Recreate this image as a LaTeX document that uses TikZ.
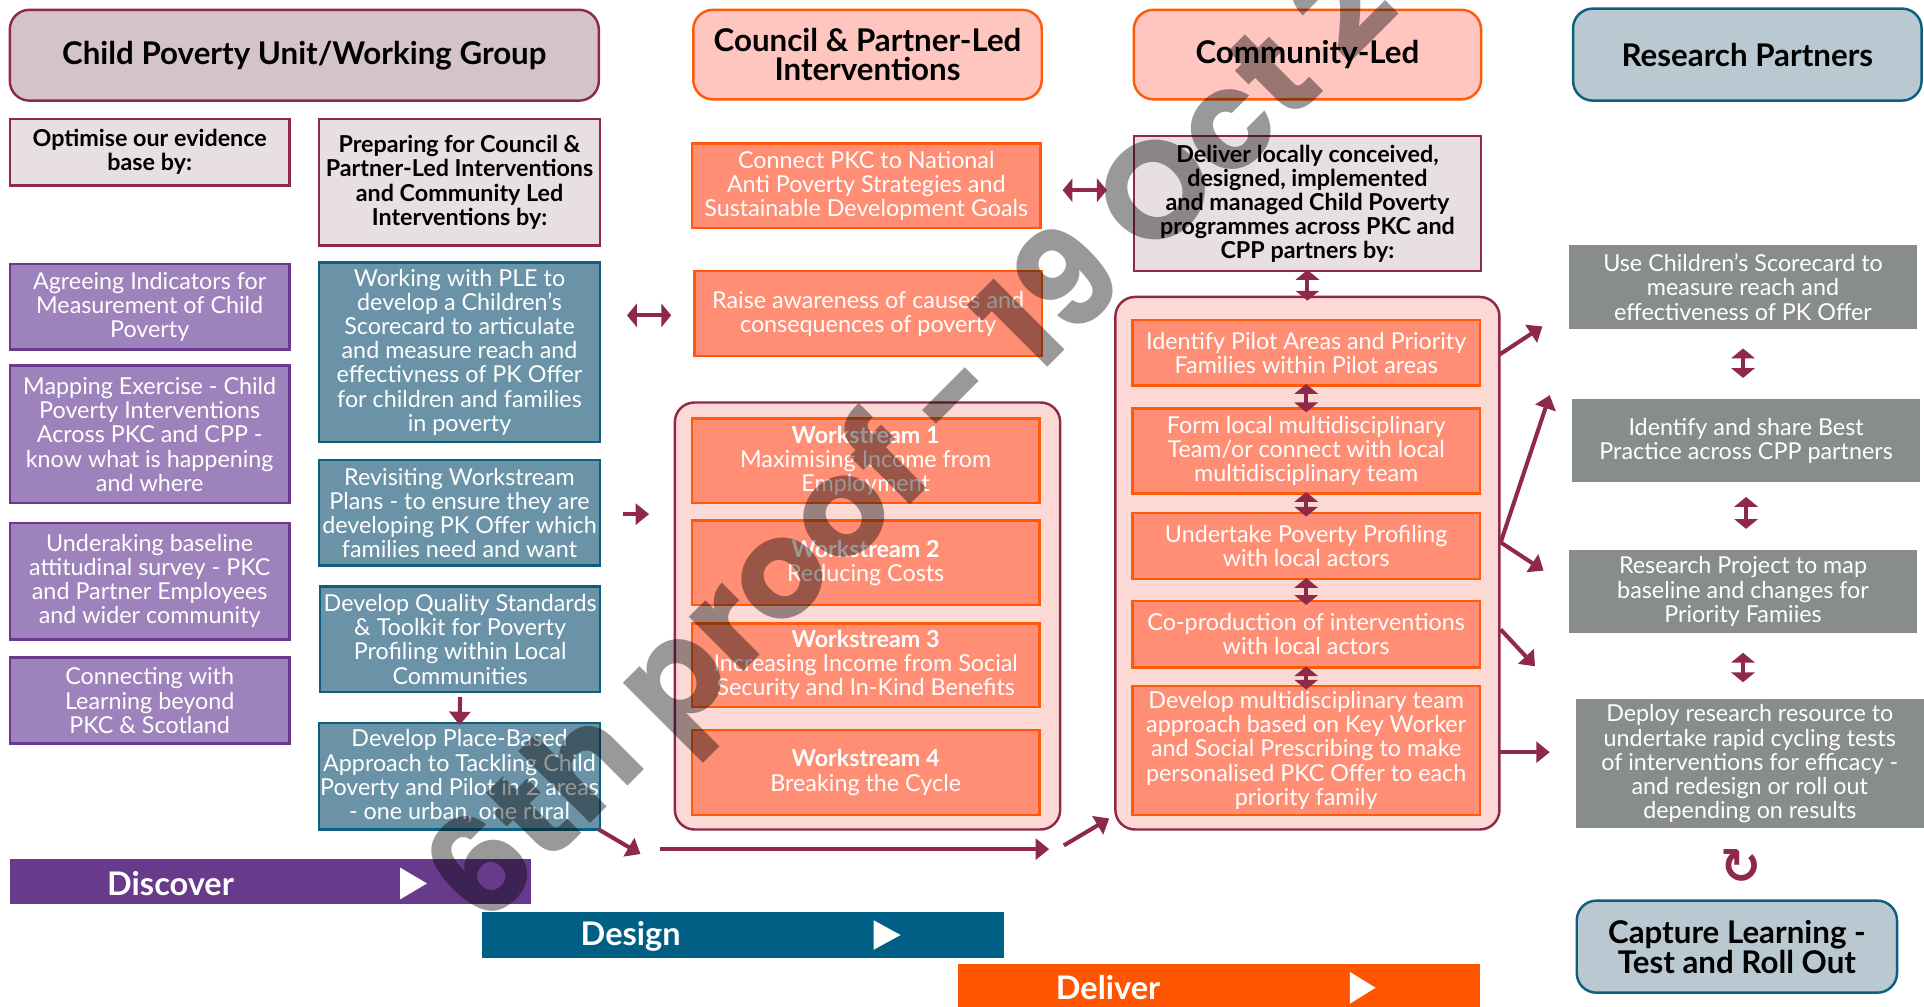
\documentclass[tikz,border=0pt]{standalone}
\usepackage{fontspec}
\setmainfont{Lato}
\newfontfamily\dejavu{DejaVu Sans}
\newfontfamily\wmfont{Poppins}
\usetikzlibrary{arrows.meta}
\definecolor{cMar}{HTML}{8E2A47}
\definecolor{cTtlFill}{HTML}{D4C3C7}
\definecolor{cLight}{HTML}{E8DFE2}
\definecolor{cPurF}{HTML}{9E82BB}
\definecolor{cPurD}{HTML}{6B3A8F}
\definecolor{cTealF}{HTML}{6A93A8}
\definecolor{cTealD}{HTML}{0D5F80}
\definecolor{cSalT}{HTML}{FFC6BF}
\definecolor{cOra}{HTML}{FF5A0A}
\definecolor{cSal}{HTML}{FF8E75}
\definecolor{cCont}{HTML}{FDD9D5}
\definecolor{cBlueT}{HTML}{BAC8D1}
\definecolor{cGray}{HTML}{898C8C}
\definecolor{cDisc}{HTML}{673A8C}
\definecolor{cDes}{HTML}{005F85}
\definecolor{cDel}{HTML}{FF5500}
\newcommand\mkbox[7]{\node[#6, minimum width={#4-#2}, minimum height={#5-#3}] (#1) at ({(#2+#4)/2},{(#3+#5)/2}) {#7};}
\tikzset{
 bodyf/.style={font=\fontsize{19}{19.7}\selectfont},
 boldf/.style={font=\bfseries\fontsize{19}{19.7}\selectfont},
 ttlf/.style={font=\bfseries\fontsize{25.5}{23.5}\selectfont},
 bxs/.style={inner sep=0pt, outer sep=0pt, align=center},
 hdrmar/.style={bxs, ttlf, rounded corners=16pt, fill=cTtlFill, draw=cMar, line width=2pt},
 hdrora/.style={bxs, ttlf, rounded corners=16pt, fill=cSalT, draw=cOra, line width=2pt},
 hdrblue/.style={bxs, ttlf, rounded corners=16pt, fill=cBlueT, draw=cTealD, line width=2pt},
 subbox/.style={bxs, boldf, fill=cLight, draw=cMar, line width=2pt},
 purbox/.style={bxs, bodyf, text=white, fill=cPurF, draw=cPurD, line width=2pt},
 tealbox/.style={bxs, bodyf, text=white, fill=cTealF, draw=cTealD, line width=2pt},
 salbox/.style={bxs, bodyf, text=white, fill=cSal, draw=cOra, line width=2pt},
 contbox/.style={bxs, rounded corners=16pt, fill=cCont, draw=cMar, line width=2pt},
 grybox/.style={bxs, bodyf, text=white, fill=cGray},
 barbox/.style={bxs},
 bartext/.style={inner sep=0pt, font=\bfseries\fontsize{26.5}{26.5}\selectfont, text=white},
 arr/.style={draw=cMar, line width=3.3pt, -{Triangle[width=17pt,length=11pt]}},
 darr/.style={draw=cMar, line width=3.3pt, {Triangle[width=19pt,length=8pt]}-{Triangle[width=19pt,length=8pt]}},
}
\begin{document}
\begin{tikzpicture}[x=1pt,y=-1pt]
\useasboundingbox (0,0) rectangle (1568,820);
\clip (0,0) rectangle (1568,820);
\fill[white] (0,0) rectangle (1568,820);

% ---- column 1
\mkbox{cpu}{8}{8}{488}{82}{hdrmar}{Child Poverty Unit/Working Group}
\mkbox{opt}{8}{97}{236}{151}{subbox}{Optimise our evidence\\base by:}
\mkbox{prep}{260}{97}{489}{200}{subbox}{Preparing for Council \&\\Partner-Led Interventions\\and Community Led\\Interventions by:}
\mkbox{agree}{8}{215}{236}{285}{purbox}{Agreeing Indicators for\\Measurement of Child\\Poverty}
\mkbox{mapx}{8}{298}{236}{410}{purbox}{Mapping Exercise - Child\\Poverty Interventions\\Across PKC and CPP -\\know what is happening\\and where}
\mkbox{under}{8}{426}{236}{521}{purbox}{Underaking baseline\\attitudinal survey - PKC\\and Partner Employees\\and wider community}
\mkbox{conn}{8}{536}{236}{606}{purbox}{Connecting with\\Learning beyond\\PKC \& Scotland}
\mkbox{ple}{260}{214}{489}{360}{tealbox}{Working with PLE to\\develop a Children's\\Scorecard to articulate\\and measure reach and\\effectivness of PK Offer\\for children and families\\in poverty}
\mkbox{revis}{260}{375}{489}{461}{tealbox}{Revisiting Workstream\\Plans - to ensure they are\\developing PK Offer which\\families need and want}
\mkbox{qual}{261}{478}{489}{564}{tealbox}{Develop Quality Standards\\\& Toolkit for Poverty\\Profiling within Local\\Communities}
\mkbox{place}{260}{589}{489}{676}{tealbox}{Develop Place-Based\\Approach to Tackling Child\\Poverty and Pilot in 2 areas\\- one urban, one rural}

% ---- column 2
\mkbox{cplt}{565}{8}{849}{81}{hdrora}{Council \& Partner-Led\\Interventions}
\mkbox{natl}{564}{117}{848}{186}{salbox}{Connect PKC to National\\Anti Poverty Strategies and\\Sustainable Development Goals}
\mkbox{raise}{566}{221}{849}{290}{salbox}{Raise awareness of causes and\\consequences of poverty}
\mkbox{wscont}{550}{328}{864}{676}{contbox}{}
\mkbox{ws1}{564}{341}{847}{410}{salbox}{\textbf{Workstream 1}\\Maximising Income from\\Employment}
\mkbox{ws2}{564}{424}{847}{493}{salbox}{\textbf{Workstream 2}\\Reducing Costs}
\mkbox{ws3}{564}{508}{847}{576}{salbox}{\textbf{Workstream 3}\\Increasing Income from Social\\Security and In-Kind Benefits}
\mkbox{ws4}{564}{595}{847}{664}{salbox}{\textbf{Workstream 4}\\Breaking the Cycle}

% ---- column 3
\mkbox{cl}{924}{8}{1207}{81}{hdrora}{Community-Led}
\mkbox{dlv}{924}{111}{1207}{221}{subbox}{Deliver locally conceived,\\designed, implemented\\and managed Child Poverty\\programmes across PKC and\\CPP partners by:}
\mkbox{clcont}{909}{242}{1222}{676}{contbox}{}
\mkbox{pilot}{923}{261}{1206}{314}{salbox}{Identify Pilot Areas and Priority\\Families within Pilot areas}
\mkbox{form}{923}{333}{1206}{402}{salbox}{Form local multidisciplinary\\Team/or connect with local\\multidisciplinary team}
\mkbox{undert}{923}{418}{1206}{472}{salbox}{Undertake Poverty Profiling\\with local actors}
\mkbox{coprod}{923}{490}{1206}{544}{salbox}{Co-production of interventions\\with local actors}
\mkbox{devmd}{923}{559}{1206}{664}{salbox}{Develop multidisciplinary team\\approach based on Key Worker\\and Social Prescribing to make\\personalised PKC Offer to each\\priority family}

% ---- column 4
\mkbox{rp}{1282}{7}{1566}{82}{hdrblue}{Research Partners}
\mkbox{useC}{1279}{200}{1562}{268}{grybox}{Use Children's Scorecard to\\measure reach and\\effectiveness of PK Offer}
\mkbox{ident}{1281}{325}{1565}{393}{grybox}{Identify and share Best\\Practice across CPP partners}
\mkbox{rproj}{1279}{448}{1562}{516}{grybox}{Research Project to map\\baseline and changes for\\Priority Famiies}
\mkbox{deploy}{1284}{570}{1568}{675}{grybox}{Deploy research resource to\\undertake rapid cycling tests\\of interventions for efficacy -\\and redesign or roll out\\depending on results}
\mkbox{capt}{1285}{734}{1546}{809}{hdrblue}{Capture Learning -\\Test and Roll Out}
\node[text=cMar, inner sep=0pt, font=\dejavu\bfseries\fontsize{40}{40}\selectfont] (cyc) at (1419,706) {↻};

% ---- phase bars
\mkbox{disc}{8}{700}{433}{737}{barbox, fill=cDisc}{}
\mkbox{desg}{393}{743}{818}{781}{barbox, fill=cDes}{}
\mkbox{delv}{781}{786}{1206}{830}{barbox, fill=cDel}{}
\node[bartext] (discT) at (139,720) {Discover};
\node[bartext] (desgT) at (514,763) {Design};
\node[bartext] (delvT) at (903,805) {Deliver};
\fill[white] (326,707) -- (348,720) -- (326,733) -- cycle;
\fill[white] (712,750) -- (734,762) -- (712,774) -- cycle;
\fill[white] (1100,792) -- (1121,805) -- (1100,818) -- cycle;

% ---- connectors
\draw[arr] (qual.south) ++(0,4) -- ([yshift=-2pt]place.north);
\coordinate (h1a) at (511,257); \coordinate (h1b) at (547,257);
\draw[darr] (h1a) -- (h1b);
\coordinate (s1a) at (508,419); \coordinate (s1b) at (529,419);
\draw[arr] (s1a) -- (s1b);
\coordinate (h2a) at (866,155); \coordinate (h2b) at (902,155);
\draw[darr] (h2a) -- (h2b);
\coordinate (d1a) at (488,676); \coordinate (d1b) at (522,696);
\draw[arr] (d1a) -- (d1b);
\coordinate (l1a) at (538,692); \coordinate (l1b) at (855,692);
\draw[arr] (l1a) -- (l1b);
\coordinate (u1a) at (867,689); \coordinate (u1b) at (904,667);
\draw[arr] (u1a) -- (u1b);

\draw[darr, shorten <=-1pt, shorten >=-3pt] (dlv.south) -- (clcont.north);
\draw[darr, shorten <=-1pt, shorten >=-3pt] (pilot.south) -- (form.north);
\draw[darr, shorten <=-1pt, shorten >=-3pt] (form.south) -- (undert.north);
\draw[darr, shorten <=-1pt, shorten >=-3pt] (undert.south) -- (coprod.north);
\draw[darr, shorten <=-1pt, shorten >=-3pt] (coprod.south) -- (devmd.north);

\draw[darr, shorten <=16pt, shorten >=17pt] (useC.south) -- (useC.south |- ident.north);
\draw[darr, shorten <=12pt, shorten >=17pt] (ident.south) -- (ident.south |- rproj.north);
\draw[darr, shorten <=16pt, shorten >=14pt] (rproj.south) -- (rproj.south |- deploy.north);

\coordinate (r1a) at (1222,289); \coordinate (r1b) at (1257,266);
\draw[arr] (r1a) -- (r1b);
\coordinate (r0) at (1223,442);
\coordinate (r2b) at (1263,322);
\draw[arr] (r0) -- (r2b);
\coordinate (r3b) at (1258,465);
\draw[arr] (r0) -- (r3b);
\coordinate (r4a) at (1223,513); \coordinate (r4b) at (1251,543);
\draw[arr] (r4a) -- (r4b);
\coordinate (r5a) at (1222,613); \coordinate (r5b) at (1263,613);
\draw[arr] (r5a) -- (r5b);

% ---- watermark
\begin{scope}[blend mode=multiply]
\node[rotate=45, anchor=base west, inner sep=0pt, font=\wmfont\bfseries\fontsize{112}{112}\selectfont, text=black!40] (wm) at (394,759) {6th proof - 19 Oct 2};
\end{scope}
\end{tikzpicture}
\end{document}
